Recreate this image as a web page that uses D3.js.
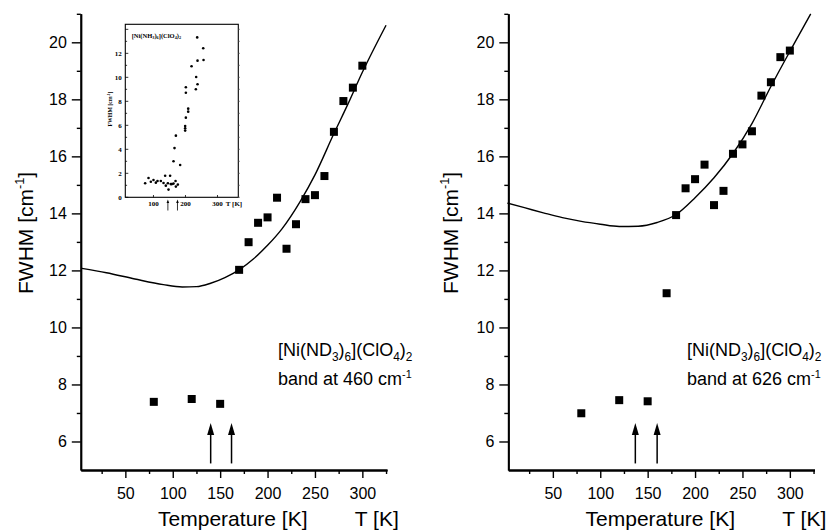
<!DOCTYPE html>
<html><head><meta charset="utf-8">
<script src="https://cdn.jsdelivr.net/npm/d3@7/dist/d3.min.js"></script>
<style>body{margin:0;background:#fff}svg{display:block}</style>
</head><body><svg id="c" width="832" height="530"></svg>
<script>
// ---------- data ----------
const leftT = [80,120,150,170,180,190,200,210,220,230,240,250,260,270,280,290,300];
const leftV = [7.39,7.49,7.32,12.02,12.99,13.67,13.86,14.55,12.76,13.62,14.50,14.64,15.31,16.86,17.94,18.41,19.18];
const leftFitT = [4,30,60,90,110,125,140,155,170,185,200,215,235,250,270,285,300,325];
const leftFitV = [12.07,11.92,11.7,11.5,11.42,11.43,11.55,11.75,12.02,12.4,12.88,13.45,14.45,15.35,16.8,17.85,18.95,20.6];
const rightT = [80,120,150,170,180,190,200,210,220,230,240,250,260,270,280,290,300];
const rightV = [6.99,7.45,7.41,11.20,13.94,14.88,15.20,15.71,14.29,14.79,16.09,16.42,16.88,18.13,18.60,19.48,19.71];
const rightFitT = [2,20,40,60,80,100,120,140,160,180,200,220,240,260,280,300,322];
const rightFitV = [14.36,14.2,14.02,13.85,13.72,13.62,13.54,13.55,13.68,13.96,14.55,15.25,16.1,17.15,18.45,19.68,21.0];
const leftArrowT = [140,162];
const rightArrowT = [137,160];
const yMajor = [6,8,10,12,14,16,18,20];
const yMinor = [7,9,11,13,15,17,19,21];
const xMajor = [50,100,150,200,250,300];
const xMinor = [25,75,125,175,225,275,325];
const leftBand = "460";
const rightBand = "626";
// inset [Ni(NH3)6](ClO4)2
const insetT = [74,84.5,91.8,100,107.4,112.6,123,131.4,136.5,138.6,145,147,152,154,157.4,162.6,169,170,176.1,183.4,162.6,165.7,170,199,199,199,201.2,208.5,208.5,201.2,201.2,219,232.4,237.6,233.4,237.6,236.6,255.4,256.4];
const insetV = [1.17,1.61,1.3,1.44,1.22,1.36,1.36,1.19,1.8,0.97,1.17,0.64,1.8,1.1,1.1,1.14,1.36,0.89,1.06,2.69,3.0,4.1,5.14,5.56,5.75,5.94,6.64,7.14,7.39,8.72,9.17,10.92,9.0,9.42,10.03,11.39,13.33,12.42,11.44];
const insetYTicks = [0,2,4,6,8,10,12];
const insetXTicks = [100,200,300];
const insetArrowT = [145,175];

const svg = d3.select("#c");
const SANS = "'Liberation Sans', Arial, sans-serif";
const SERIF = "'Liberation Serif', 'Times New Roman', serif";

const y = d3.scaleLinear().domain([5,21]).range([470,13.8]);

function richText(g, x, yy, parts, size, anchor, family, weight) {
  const t = g.append("text").attr("x", x).attr("y", yy)
    .attr("font-family", family).attr("font-size", size)
    .attr("text-anchor", anchor || "start").attr("fill", "#000");
  if (weight) t.attr("font-weight", weight);
  let pending = 0;
  parts.forEach(p => {
    const s = t.append("tspan").text(p[0]);
    let shift = 0;
    if (p[1] === "sub") { s.attr("font-size", size*0.66); shift = size*0.28; }
    else if (p[1] === "sup") { s.attr("font-size", size*0.6); shift = -size*0.4; }
    const dy = pending + shift;
    if (dy !== 0) s.attr("dy", dy);
    pending = -shift;
  });
  return t;
}

function panel(x0, x1, ptsT, ptsV, fitT, fitV, arrowT, band, textX, titleX) {
  const x = d3.scaleLinear().domain([3,326]).range([x0, x1]);
  const g = svg.append("g");
  g.append("g").attr("transform", `translate(${x0},0)`)
    .call(d3.axisLeft(y).tickValues(yMajor).tickSize(9).tickPadding(5).tickSizeOuter(0).tickFormat(d3.format("d")));
  g.append("g").attr("transform", `translate(${x0},0)`)
    .call(d3.axisLeft(y).tickValues(yMinor).tickSize(4).tickSizeOuter(0).tickFormat(""));
  g.append("g").attr("transform", `translate(0,470)`)
    .call(d3.axisBottom(x).tickValues(xMajor).tickSize(8).tickPadding(10).tickSizeOuter(0).tickFormat(d3.format("d")));
  g.append("g").attr("transform", `translate(0,470)`)
    .call(d3.axisBottom(x).tickValues(xMinor).tickSize(4).tickSizeOuter(0).tickFormat(""));
  g.selectAll(".domain").attr("stroke", "#000").attr("stroke-width", 1.8);
  g.selectAll(".tick line").attr("stroke", "#000").attr("stroke-width", 1.4);
  g.selectAll(".tick text").attr("font-family", SANS).attr("font-size", 16).attr("fill", "#000");

  const line = d3.line().x((d,i) => x(fitT[i])).y((d,i) => y(fitV[i])).curve(d3.curveMonotoneX);
  g.append("path").datum(fitT).attr("d", line).attr("fill", "none").attr("stroke", "#000").attr("stroke-width", 1.4);

  g.selectAll("rect.pt").data(ptsT).enter().append("rect").attr("class", "pt")
    .attr("x", (d) => x(d) - 4).attr("y", (d,i) => y(ptsV[i]) - 4)
    .attr("width", 8).attr("height", 8).attr("fill", "#000");

  arrowT.forEach(t => {
    const ax = x(t), yb = y(5.23), yt = y(6.65);
    g.append("line").attr("x1", ax).attr("x2", ax).attr("y1", yb).attr("y2", yt + 8)
      .attr("stroke", "#000").attr("stroke-width", 1.5);
    g.append("path").attr("d", `M${ax},${yt} L${ax-3.5},${yt+12} L${ax+3.5},${yt+12} Z`).attr("fill", "#000");
  });

  richText(g, textX, 356, [["[Ni(ND"],["3","sub"],[")"],["6","sub"],["](ClO"],["4","sub"],[")"],["2","sub"]], 18, "start", SANS);
  richText(g, textX, 385, [["band at " + band + " cm"],["-1","sup"]], 18, "start", SANS);

  svg.append("text").attr("x", x0 + 152).attr("y", 526)
    .attr("text-anchor", "middle").attr("font-family", SANS).attr("font-size", 21).text("Temperature [K]");
  svg.append("text").attr("x", x0 + 296).attr("y", 526)
    .attr("text-anchor", "middle").attr("font-family", SANS).attr("font-size", 21).text("T [K]");
  const ty = svg.append("g").attr("transform", `translate(${titleX},233) rotate(-90)`);
  richText(ty, 0, 7.5, [["FWHM [cm"],["-1","sup"],["]"]], 21, "middle", SANS);
  return x;
}

panel(80.8, 387, leftT, leftV, leftFitT, leftFitV, leftArrowT, leftBand, 278, 25);
panel(508.3, 814.5, rightT, rightV, rightFitT, rightFitV, rightArrowT, rightBand, 687, 450);

// ---------- inset ----------
const ix = d3.scaleLinear().domain([12,365]).range([125.3,238.3]);
const iy = d3.scaleLinear().domain([0,14.42]).range([197.3,24.3]);
const ig = svg.append("g");
ig.append("rect").attr("x", 125.3).attr("y", 24.3).attr("width", 113).attr("height", 173)
  .attr("fill", "#fff").attr("stroke", "#000").attr("stroke-width", 1.1);
d3.range(0,15).forEach(v => {
  const len = v % 2 === 0 ? 3 : 1.8;
  ig.append("line").attr("x1", 125.3).attr("x2", 125.3 + len).attr("y1", iy(v)).attr("y2", iy(v))
    .attr("stroke", "#000").attr("stroke-width", 0.8);
  ig.append("line").attr("x1", 238.3).attr("x2", 238.3 + 1.6).attr("y1", iy(v)).attr("y2", iy(v))
    .attr("stroke", "#555").attr("stroke-width", 0.7);
});
insetXTicks.forEach(t => {
  ig.append("line").attr("x1", ix(t)).attr("x2", ix(t)).attr("y1", 197.3).attr("y2", 195)
    .attr("stroke", "#000").attr("stroke-width", 0.8);
});
insetYTicks.forEach(v => {
  ig.append("text").attr("x", 121.7).attr("y", iy(v) + 2.4).attr("text-anchor", "end")
    .attr("font-family", SERIF).attr("font-weight", "bold").attr("font-size", 7).text(v);
});
insetXTicks.forEach(t => {
  ig.append("text").attr("x", ix(t)).attr("y", 206).attr("text-anchor", "middle")
    .attr("font-family", SERIF).attr("font-weight", "bold").attr("font-size", 7).text(t);
});
ig.append("text").attr("x", 234).attr("y", 206).attr("text-anchor", "middle")
  .attr("font-family", SERIF).attr("font-weight", "bold").attr("font-size", 7).text("T [K]");
insetArrowT.forEach(t => {
  const ax = ix(t);
  ig.append("line").attr("x1", ax).attr("x2", ax).attr("y1", 210.5).attr("y2", 202)
    .attr("stroke", "#000").attr("stroke-width", 0.8);
  ig.append("path").attr("d", `M${ax},${199.5} L${ax-1.3},${203} L${ax+1.3},${203} Z`).attr("fill", "#000");
});
ig.selectAll("circle").data(insetT).enter().append("circle")
  .attr("cx", d => ix(d)).attr("cy", (d,i) => iy(insetV[i])).attr("r", 1.3).attr("fill", "#000");
richText(ig, 131.7, 37.5, [["[Ni(NH"],["3","sub"],[")"],["6","sub"],["](ClO"],["4","sub"],[")"],["2","sub"]], 6.5, "start", SERIF, "bold");
const iyt = ig.append("g").attr("transform", "translate(110,109) rotate(-90)");
richText(iyt, 0, 2, [["FWHM  [cm"],["-1","sup"],["]"]], 5.8, "middle", SERIF, "bold");
</script></body></html>
